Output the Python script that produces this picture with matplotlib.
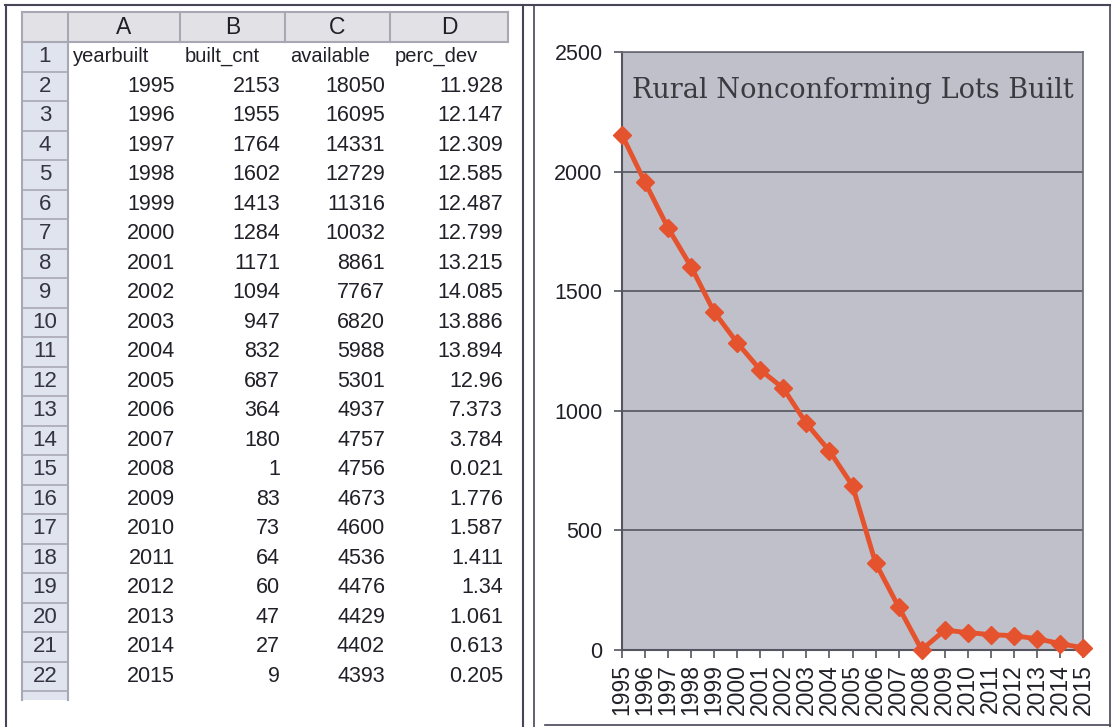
import matplotlib
matplotlib.use("Agg")
import matplotlib.pyplot as plt
from matplotlib.patches import Rectangle

# Data
years = [1995, 1996, 1997, 1998, 1999, 2000, 2001, 2002, 2003, 2004, 2005,
         2006, 2007, 2008, 2009, 2010, 2011, 2012, 2013, 2014, 2015]
built_cnt = [2153, 1955, 1764, 1602, 1413, 1284, 1171, 1094, 947, 832, 687,
             364, 180, 1, 83, 73, 64, 60, 47, 27, 9]
available = [18050, 16095, 14331, 12729, 11316, 10032, 8861, 7767, 6820, 5988,
             5301, 4937, 4757, 4756, 4673, 4600, 4536, 4476, 4429, 4402, 4393]
perc_dev = ["11.928", "12.147", "12.309", "12.585", "12.487", "12.799", "13.215",
            "14.085", "13.886", "13.894", "12.96", "7.373", "3.784", "0.021",
            "1.776", "1.587", "1.411", "1.34", "1.061", "0.613", "0.205"]
col_letters = ["A", "B", "C", "D"]
col_names = ["yearbuilt", "built_cnt", "available", "perc_dev"]
chart_title = "Rural Nonconforming Lots Built"

W, H = 1116, 727
fig = plt.figure(figsize=(W / 100, H / 100), dpi=100)
fig.patch.set_facecolor("white")

# background axes in pixel coordinates (for table and frames)
bg = fig.add_axes([0, 0, 1, 1])
bg.set_xlim(0, W)
bg.set_ylim(H, 0)
bg.axis("off")

frame_c = "#4a4458"
bg.plot([5, 1110], [5, 5], color=frame_c, lw=1.5)
bg.plot([6, 6], [5, 727], color=frame_c, lw=1.5)
bg.plot([523, 523], [5, 727], color=frame_c, lw=1.5)
bg.plot([534, 534], [5, 727], color=frame_c, lw=1.2)
bg.plot([1110, 1110], [5, 727], color=frame_c, lw=1.2)
bg.plot([545, 1110], [725, 725], color=frame_c, lw=1.2)

# spreadsheet table
font_t = "Liberation Sans"
col_edges = [68, 180, 285, 390, 508]
rn_left, rn_right = 22, 68
hdr_top, hdr_bot = 12, 42
row_h = 29.5
n_rows = len(years) + 1
grid_c = "#a8a8b4"

bg.add_patch(Rectangle((rn_left, hdr_top), col_edges[-1] - rn_left, hdr_bot - hdr_top,
                       facecolor="#e2e2e6", edgecolor="none"))
bg.add_patch(Rectangle((rn_left, hdr_bot), rn_right - rn_left, row_h * (n_rows + 0.3),
                       facecolor="#dfe4ee", edgecolor="none"))
for x in [rn_left] + col_edges:
    bg.plot([x, x], [hdr_top, hdr_bot], color=grid_c, lw=1.5)
bg.plot([rn_left, col_edges[-1]], [hdr_top, hdr_top], color=grid_c, lw=1.5)
bg.plot([rn_left, col_edges[-1]], [hdr_bot, hdr_bot], color=grid_c, lw=1.5)
bg.plot([rn_left, rn_left], [hdr_bot, hdr_bot + row_h * (n_rows + 0.3)], color=grid_c, lw=1.5)
bg.plot([rn_right, rn_right], [hdr_bot, hdr_bot + row_h * (n_rows + 0.3)], color=grid_c, lw=1.5)
for i in range(n_rows + 1):
    y = hdr_bot + row_h * i
    bg.plot([rn_left, rn_right], [y, y], color=grid_c, lw=1.2)

txt_c = "#202028"
fs = 15.5
for j, letter in enumerate(col_letters):
    xc = (col_edges[j] + col_edges[j + 1]) / 2
    bg.text(xc, (hdr_top + hdr_bot) / 2 + 1, letter, ha="center", va="center",
            fontsize=16.5, family=font_t, color=txt_c)
    bg.text(col_edges[j] + 5, hdr_bot + row_h / 2, col_names[j], ha="left", va="center",
            fontsize=fs - 1, family=font_t, color=txt_c)

for i in range(n_rows):
    bg.text((rn_left + rn_right) / 2, hdr_bot + row_h * (i + 0.5), str(i + 1),
            ha="center", va="center", fontsize=16, family=font_t, color="#343444")

for i in range(len(years)):
    y = hdr_bot + row_h * (i + 1.5)
    vals = [str(years[i]), str(built_cnt[i]), str(available[i]), perc_dev[i]]
    for j, v in enumerate(vals):
        bg.text(col_edges[j + 1] - 5, y, v, ha="right", va="center",
                fontsize=fs, family=font_t, color=txt_c)

# chart
x0, x1, y_top, y_bot = 622, 1083, 52, 650
ax = fig.add_axes([x0 / W, (H - y_bot) / H, (x1 - x0) / W, (y_bot - y_top) / H])
ax.set_facecolor("#bfc0c9")
xs = list(range(len(years)))
ax.plot(xs, built_cnt, color="#e5532e", lw=3.5, marker="D", ms=9,
        markeredgecolor="#e5532e", clip_on=False, zorder=3)
ax.set_xlim(0, len(years) - 1)
ax.set_ylim(0, 2500)
ax.set_yticks([0, 500, 1000, 1500, 2000, 2500])
ax.set_xticks(xs)
ax.set_xticklabels([str(y) for y in years], rotation=90, fontsize=16.5,
                   family=font_t, color=txt_c)
for lab in ax.get_yticklabels():
    lab.set_fontsize(15.5)
    lab.set_family(font_t)
    lab.set_color(txt_c)
ax.yaxis.grid(True, color="#55555f", lw=1.2)
ax.set_axisbelow(True)
ax.tick_params(axis="both", direction="out", length=6, color="#55555f", width=1.2)
ax.tick_params(axis="y", pad=8)
ax.tick_params(axis="x", pad=4)
for side in ["top", "right"]:
    ax.spines[side].set_color("#6a6a74")
    ax.spines[side].set_linewidth(1.2)
for side in ["left", "bottom"]:
    ax.spines[side].set_color("#55555f")
    ax.spines[side].set_linewidth(1.5)
ax.text(0.5, 0.935, chart_title, transform=ax.transAxes, ha="center", va="center",
        fontsize=19.5, family="DejaVu Serif", color="#3a3a40")

fig.savefig("out.png", dpi=100)
